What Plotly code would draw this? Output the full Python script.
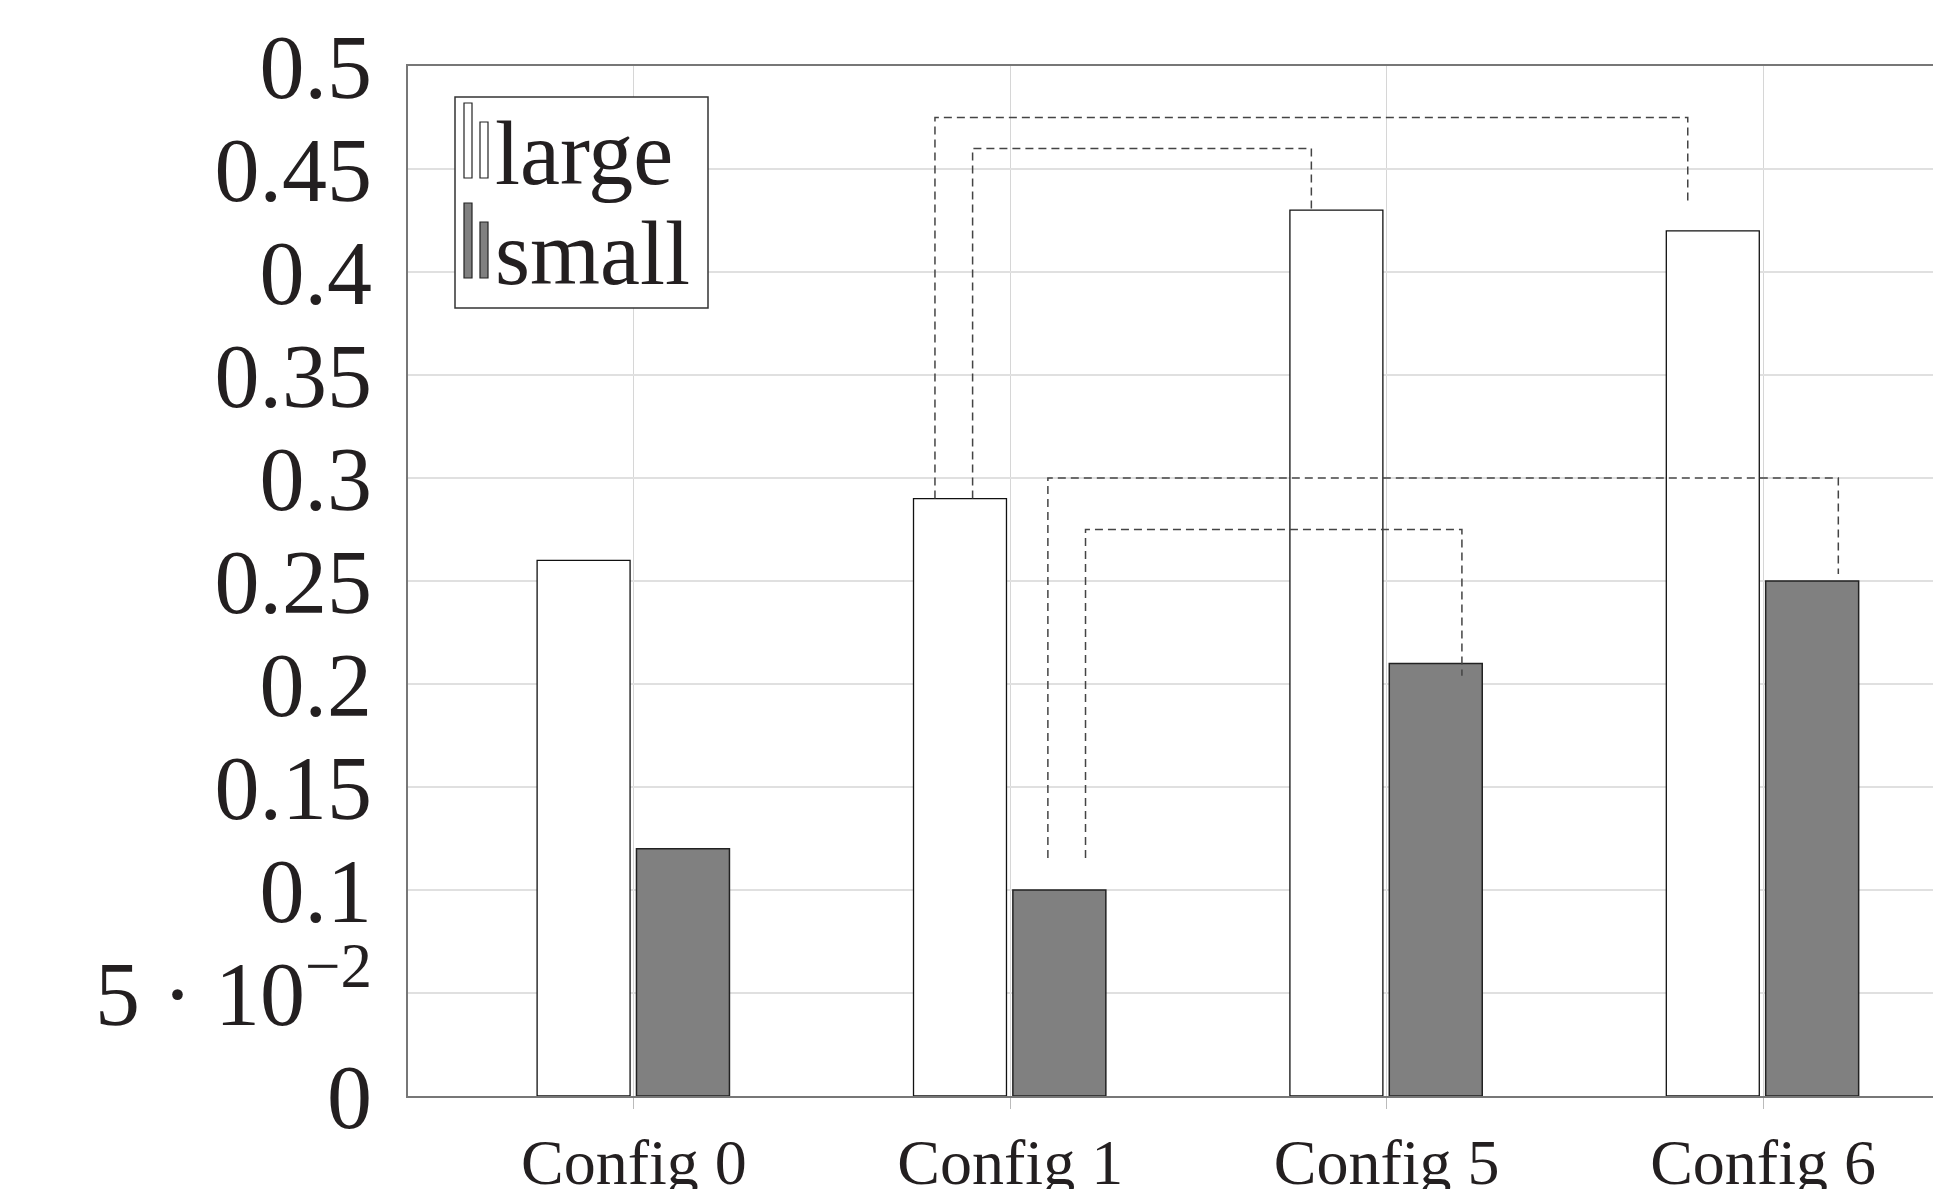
import plotly.graph_objects as go

categories = ["Config 0", "Config 1", "Config 5", "Config 6"]
large_values = [0.26, 0.29, 0.43, 0.42]
small_values = [0.12, 0.10, 0.21, 0.25]

y_tick_vals = [0, 0.05, 0.1, 0.15, 0.2, 0.25, 0.3, 0.35, 0.4, 0.45, 0.5]
y_tick_text = ["0", "5 · 10<sup>−2</sup>", "0.1", "0.15", "0.2", "0.25", "0.3",
               "0.35", "0.4", "0.45", "0.5"]

# comparison brackets: (start x, end x, top y, start leg bottom, end leg bottom)
bracket_x0 = [0.8, 0.9, 1.1, 1.2]
bracket_x1 = [2.8, 1.8, 3.2, 2.2]
bracket_top = [0.475, 0.46, 0.30, 0.275]
bracket_y0 = [0.29, 0.29, 0.1155, 0.1155]
bracket_y1 = [0.4335, 0.43, 0.2534, 0.204]

# page body has an 8px margin, so the figure is offset by (8, 8)
OFF = 8
W, H = 1941 - OFF, 1189 - OFF
L, T = 408 - OFF, 66 - OFF
B = H - (1096 - OFF)
FONT = "Liberation Serif, Times New Roman, serif"

xpos = list(range(len(categories)))

fig = go.Figure()
fig.add_trace(go.Bar(
    x=xpos, y=large_values, name="large",
    width=0.247, offset=-0.257,
    marker=dict(color="white", line=dict(color="#111111", width=1.3)),
    showlegend=False,
))
fig.add_trace(go.Bar(
    x=xpos, y=small_values, name="small",
    width=0.247, offset=0.007,
    marker=dict(color="#808080", line=dict(color="#222222", width=1.5)),
    showlegend=False,
))

for x0, x1, yt, ya, yb in zip(bracket_x0, bracket_x1, bracket_top, bracket_y0, bracket_y1):
    fig.add_trace(go.Scatter(
        x=[x0, x0, x1, x1], y=[ya, yt, yt, yb], mode="lines",
        line=dict(color="#444444", width=1.5, dash="8px,5px"),
        showlegend=False, hoverinfo="skip",
    ))

plot_w = W - L
plot_h = H - B - T
spacing = 376.4
xmin = -0.6
xmax = xmin + plot_w / spacing

fig.update_layout(
    width=W, height=H,
    margin=dict(l=L, r=0, t=T, b=B, pad=0, autoexpand=False),
    paper_bgcolor="white", plot_bgcolor="white",
    font=dict(family=FONT, color="#231f20"),
    barmode="overlay",
    xaxis=dict(
        range=[xmin, xmax], tickvals=xpos, ticktext=categories,
        tickfont=dict(size=64, family=FONT, color="#231f20"),
        showgrid=True, gridcolor="#d6d6d6", gridwidth=1.3,
        showline=True, linecolor="#777777", linewidth=2, mirror=True,
        ticks="outside", ticklen=11, tickcolor="#bbbbbb", tickwidth=1,
        ticklabelstandoff=-2, zeroline=False, automargin=False,
    ),
    yaxis=dict(
        range=[0, 0.5], tickvals=y_tick_vals, ticktext=y_tick_text,
        tickfont=dict(size=90, family=FONT, color="#231f20"),
        showgrid=True, gridcolor="#e0e0e0", gridwidth=1.5,
        showline=True, linecolor="#777777", linewidth=2, mirror=False,
        ticks="", ticklabelstandoff=16, zeroline=False, automargin=False,
    ),
)

# custom legend (pgfplots-style double bar icons); pixel positions in screen coords
def px2paper_x(px):
    return (px - OFF - L) / plot_w

def px2paper_y(py):
    return (H - B - (py - OFF)) / plot_h

fig.add_shape(type="rect", xref="paper", yref="paper",
              x0=px2paper_x(455), x1=px2paper_x(708),
              y0=px2paper_y(308), y1=px2paper_y(97),
              line=dict(color="#333333", width=1.5), fillcolor="white", layer="above")

legend_items = [("large", "white", 103, 122, 183), ("small", "#808080", 203, 222, 283)]
for label, fill, top1, top2, base in legend_items:
    fig.add_shape(type="rect", xref="paper", yref="paper",
                  x0=px2paper_x(464), x1=px2paper_x(472),
                  y0=px2paper_y(base - 5), y1=px2paper_y(top1),
                  line=dict(color="#222222", width=1.2), fillcolor=fill, layer="above")
    fig.add_shape(type="rect", xref="paper", yref="paper",
                  x0=px2paper_x(480), x1=px2paper_x(488),
                  y0=px2paper_y(base - 5), y1=px2paper_y(top2),
                  line=dict(color="#222222", width=1.2), fillcolor=fill, layer="above")
    fig.add_annotation(text=label, xref="paper", yref="paper",
                       x=px2paper_x(493), y=px2paper_y(base - 30),
                       xanchor="left", yanchor="middle", showarrow=False,
                       font=dict(size=90, family=FONT, color="#231f20"))

fig.write_html("out.html")
